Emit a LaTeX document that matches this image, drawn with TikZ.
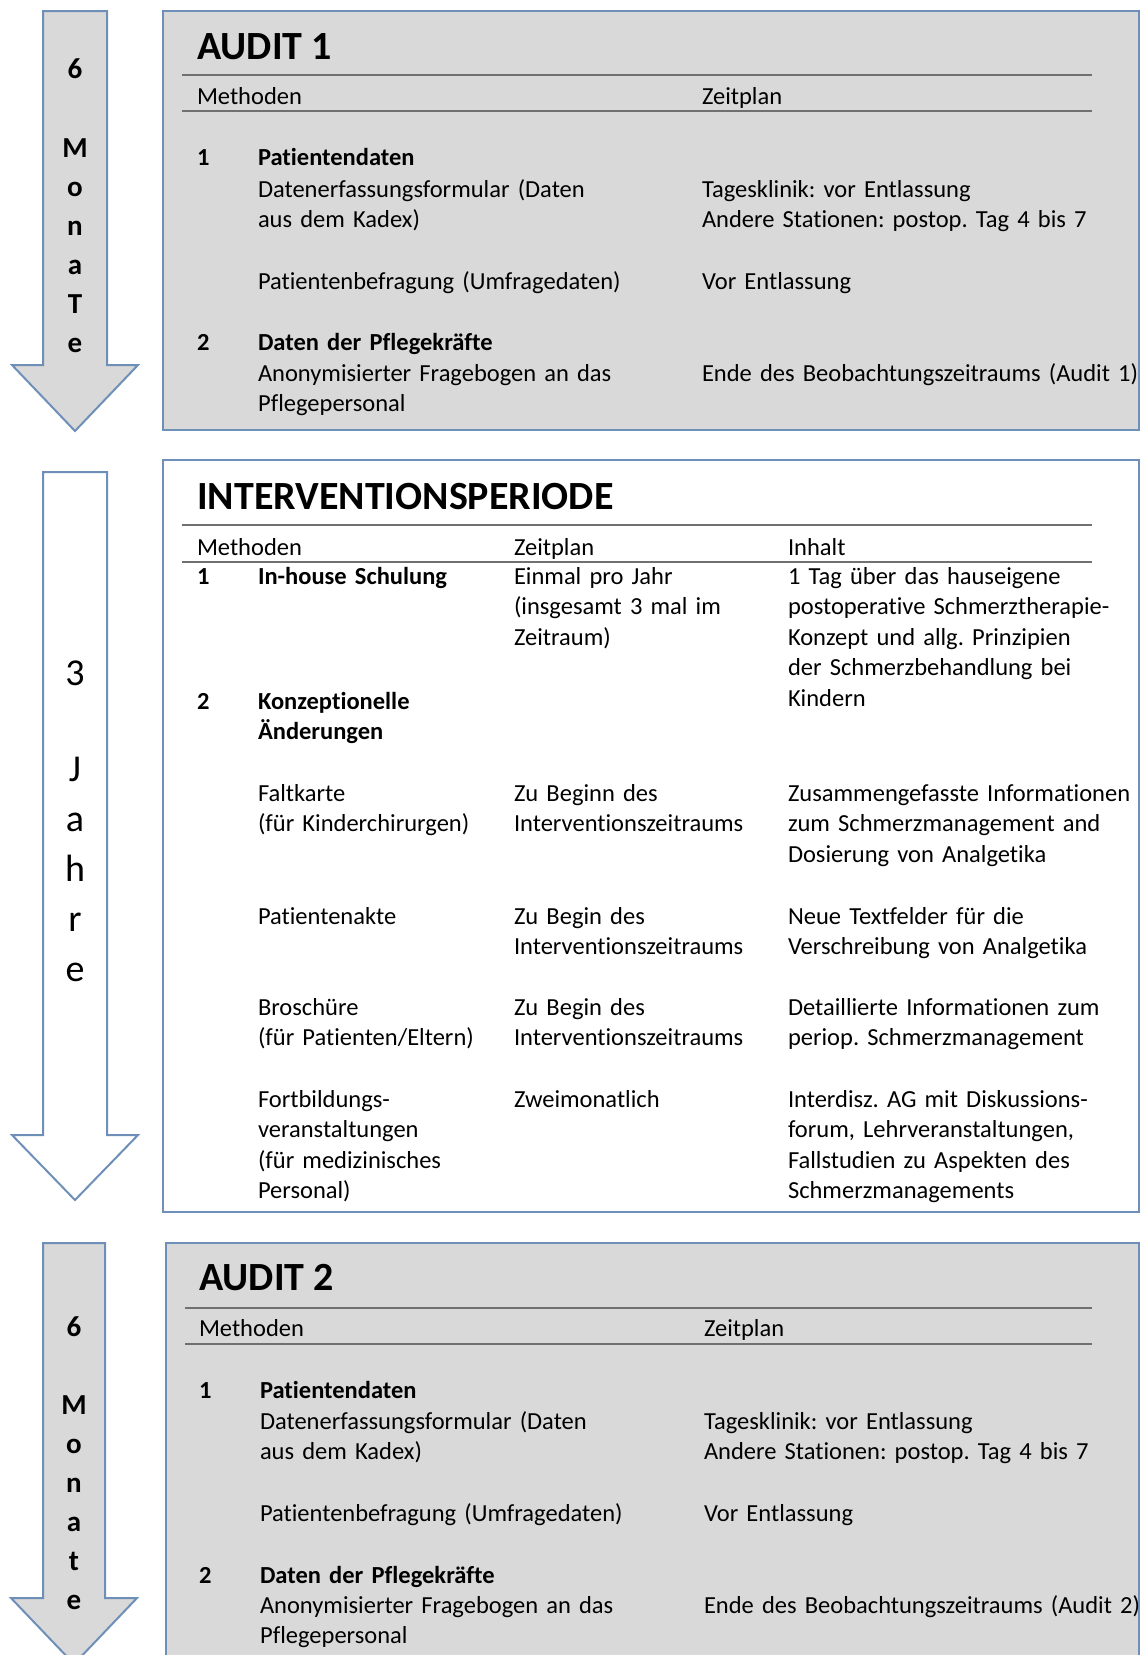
\documentclass[tikz,border=0pt]{standalone}
\usepackage{fontspec}
\setmainfont{Carlito}[Ligatures=NoCommon]
\frenchspacing
\definecolor{boxblue}{RGB}{110,144,184}
\definecolor{boxgray}{RGB}{217,217,217}
\definecolor{rulegray}{RGB}{112,112,112}
\newcommand{\bodyfont}{\fontsize{24.5}{30.5}\selectfont}
\newcommand{\titlefont}{\fontsize{40}{46}\selectfont\bfseries}
\tikzset{
  panel/.style={draw=boxblue, line width=2pt},
  graypanel/.style={panel, fill=boxgray},
  whitepanel/.style={panel, fill=white},
  tablerule/.style={draw=rulegray, line width=2pt},
  txt/.style={anchor=base west, inner sep=0pt, outer sep=0pt, text width=440pt, align=left, font=\bodyfont},
  btxt/.style={txt, font=\bodyfont\bfseries},
  ttl/.style={anchor=base west, inner sep=0pt, font=\titlefont},
  arrowletter/.style={anchor=base, inner sep=0pt, font=\fontsize{29}{32}\selectfont\bfseries},
  arrowletterbig/.style={anchor=base, inner sep=0pt, font=\fontsize{38}{42}\selectfont},
}
\begin{document}
\begin{tikzpicture}[x=1pt, y=-1pt]
\useasboundingbox (0,0) rectangle (1141,1655);
\clip (0,0) rectangle (1141,1655);

% ---------- arrows ----------
\draw[graypanel] (43,11) -- (107,11) -- (107,365) -- (138,365) -- (75,431) -- (12,365) -- (43,365) -- cycle;
\draw[whitepanel] (43,472) -- (107,472) -- (107,1135) -- (138,1135) -- (75,1200) -- (12,1135) -- (43,1135) -- cycle;
\draw[graypanel] (43,1243) -- (105,1243) -- (105,1598) -- (137,1598) -- (74,1664) -- (11,1598) -- (43,1598) -- cycle;

% arrow 1 letters
\node[arrowletter] (a1c0) at (75,78) {6};
\node[arrowletter] (a1c1) at (75,157) {M};
\node[arrowletter] (a1c2) at (75,196) {o};
\node[arrowletter] (a1c3) at (75,235) {n};
\node[arrowletter] (a1c4) at (75,274) {a};
\node[arrowletter] (a1c5) at (75,313) {T};
\node[arrowletter] (a1c6) at (75,352) {e};

% arrow 2 letters
\node[arrowletterbig] (a2c0) at (75,685) {3};
\node[arrowletterbig] (a2c1) at (75,781) {J};
\node[arrowletterbig] (a2c2) at (75,831) {a};
\node[arrowletterbig] (a2c3) at (75,881) {h};
\node[arrowletterbig] (a2c4) at (75,931) {r};
\node[arrowletterbig] (a2c5) at (75,981) {e};

% arrow 3 letters
\node[arrowletter] (a3c0) at (74,1336) {6};
\node[arrowletter] (a3c1) at (74,1414) {M};
\node[arrowletter] (a3c2) at (74,1453) {o};
\node[arrowletter] (a3c3) at (74,1492) {n};
\node[arrowletter] (a3c4) at (74,1531) {a};
\node[arrowletter] (a3c5) at (74,1570) {t};
\node[arrowletter] (a3c6) at (74,1609) {e};

% ---------- panels ----------
\draw[graypanel] (163,11) rectangle (1139,430);
\draw[whitepanel] (163,460) rectangle (1139,1212);
\draw[graypanel] (166,1243) rectangle (1139,1700);

% ---------- AUDIT 1 ----------
\node[ttl] (t1) at (197,59) {AUDIT 1};
\draw[tablerule] (182,75) -- (1092,75);
\draw[tablerule] (182,111) -- (1092,111);
\node[txt] (h1m) at (197,104) {Methoden};
\node[txt] (h1z) at (702,104) {Zeitplan};
\node[btxt] (n11) at (197,165) {1};
\node[btxt] (p11) at (258,165) {Patientendaten};
\node[txt] (m11) at (258,197) {Datenerfassungsformular (Daten\\aus dem Kadex)};
\node[txt] (z11) at (702,197) {Tagesklinik: vor Entlassung\\Andere Stationen: postop. Tag 4 bis 7};
\node[txt] (m12) at (258,289) {Patientenbefragung (Umfragedaten)};
\node[txt] (z12) at (702,289) {Vor Entlassung};
\node[btxt] (n12) at (197,350) {2};
\node[btxt] (p12) at (258,350) {Daten der Pflegekräfte};
\node[txt] (m13) at (258,381) {Anonymisierter Fragebogen an das\\Pflegepersonal};
\node[txt] (z13) at (702,381) {Ende des Beobachtungszeitraums (Audit 1)};

% ---------- INTERVENTIONSPERIODE ----------
\node[ttl] (t2) at (197,509) {INTERVENTIONSPERIODE};
\draw[tablerule] (182,525) -- (1092,525);
\draw[tablerule] (182,562) -- (1092,562);
\node[txt] (h2m) at (197,555) {Methoden};
\node[txt] (h2z) at (514,555) {Zeitplan};
\node[txt] (h2i) at (788,555) {Inhalt};
\node[btxt] (n21) at (197,584) {1};
\node[btxt] (p21) at (258,584) {In-house Schulung};
\node[txt] (z21) at (514,584) {Einmal pro Jahr\\(insgesamt 3 mal im\\Zeitraum)};
\node[txt] (i21) at (788,584) {1 Tag über das hauseigene\\postoperative Schmerztherapie-\\Konzept und allg. Prinzipien\\der Schmerzbehandlung bei\\Kindern};
\node[btxt] (n22) at (197,709) {2};
\node[btxt] (p22) at (258,709) {Konzeptionelle\\Änderungen};
\node[txt] (m23) at (258,801) {Faltkarte\\(für Kinderchirurgen)};
\node[txt] (z23) at (514,801) {Zu Beginn des\\Interventionszeitraums};
\node[txt] (i23) at (788,801) {Zusammengefasste Informationen\\zum Schmerzmanagement and\\Dosierung von Analgetika};
\node[txt] (m24) at (258,924) {Patientenakte};
\node[txt] (z24) at (514,924) {Zu Begin des\\Interventionszeitraums};
\node[txt] (i24) at (788,924) {Neue Textfelder für die\\Verschreibung von Analgetika};
\node[txt] (m25) at (258,1015) {Broschüre\\(für Patienten/Eltern)};
\node[txt] (z25) at (514,1015) {Zu Begin des\\Interventionszeitraums};
\node[txt] (i25) at (788,1015) {Detaillierte Informationen zum\\periop. Schmerzmanagement};
\node[txt] (m26) at (258,1107) {Fortbildungs-\\veranstaltungen\\(für medizinisches\\Personal)};
\node[txt] (z26) at (514,1107) {Zweimonatlich};
\node[txt] (i26) at (788,1107) {Interdisz. AG mit Diskussions-\\forum, Lehrveranstaltungen,\\Fallstudien zu Aspekten des\\Schmerzmanagements};

% ---------- AUDIT 2 ----------
\node[ttl] (t3) at (199,1290) {AUDIT 2};
\draw[tablerule] (185,1308) -- (1092,1308);
\draw[tablerule] (185,1344) -- (1092,1344);
\node[txt] (h3m) at (199,1336) {Methoden};
\node[txt] (h3z) at (704,1336) {Zeitplan};
\node[btxt] (n31) at (199,1398) {1};
\node[btxt] (p31) at (260,1398) {Patientendaten};
\node[txt] (m31) at (260,1429) {Datenerfassungsformular (Daten\\aus dem Kadex)};
\node[txt] (z31) at (704,1429) {Tagesklinik: vor Entlassung\\Andere Stationen: postop. Tag 4 bis 7};
\node[txt] (m32) at (260,1521) {Patientenbefragung (Umfragedaten)};
\node[txt] (z32) at (704,1521) {Vor Entlassung};
\node[btxt] (n32) at (199,1583) {2};
\node[btxt] (p32) at (260,1583) {Daten der Pflegekräfte};
\node[txt] (m33) at (260,1613) {Anonymisierter Fragebogen an das\\Pflegepersonal};
\node[txt] (z33) at (704,1613) {Ende des Beobachtungszeitraums (Audit 2)};
\end{tikzpicture}
\end{document}
